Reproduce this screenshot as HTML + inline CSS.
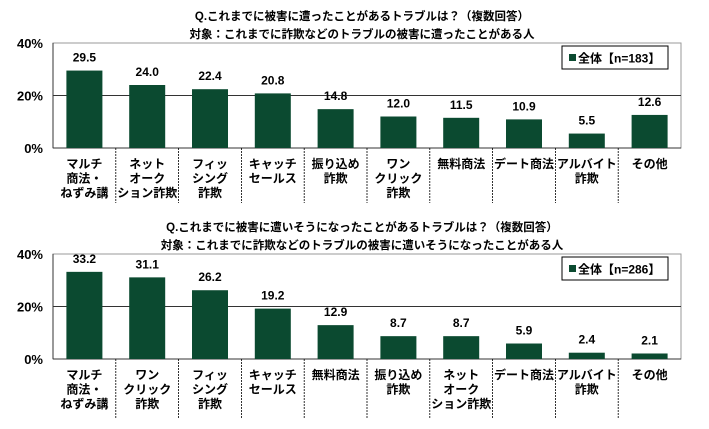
<!DOCTYPE html>
<html><head><meta charset="utf-8"><style>
body{margin:0;background:#fff;width:709px;height:424px;overflow:hidden}
svg text{font-family:"Liberation Sans","Noto Sans CJK JP",sans-serif;font-weight:bold;fill:#000}
</style></head><body>
<svg id="svg" width="709" height="424"></svg>
<script>
const cats1=[["マルチ","商法・","ねずみ講"],["ネット","オーク","ション詐欺"],["フィッ","シング","詐欺"],["キャッチ","セールス"],["振り込め","詐欺"],["ワン","クリック","詐欺"],["無料商法"],["デート商法"],["アルバイト","詐欺"],["その他"]];
const vals1=[29.5,24.0,22.4,20.8,14.8,12.0,11.5,10.9,5.5,12.6];
const cats2=[["マルチ","商法・","ねずみ講"],["ワン","クリック","詐欺"],["フィッ","シング","詐欺"],["キャッチ","セールス"],["無料商法"],["振り込め","詐欺"],["ネット","オーク","ション詐欺"],["デート商法"],["アルバイト","詐欺"],["その他"]];
const vals2=[33.2,31.1,26.2,19.2,12.9,8.7,8.7,5.9,2.4,2.1];
const ticks=[0,20,40];
const titles1=["Q.これまでに被害に遭ったことがあるトラブルは？（複数回答）","対象：これまでに詐欺などのトラブルの被害に遭ったことがある人"];
const titles2=["Q.これまでに被害に遭いそうになったことがあるトラブルは？（複数回答）","対象：これまでに詐欺などのトラブルの被害に遭いそうになったことがある人"];
const svg=document.getElementById('svg');
const NS='http://www.w3.org/2000/svg';
function mk(tag,attrs,txt){const e=document.createElementNS(NS,tag);for(const k in attrs)e.setAttribute(k,attrs[k]);if(txt!==undefined)e.textContent=txt;svg.appendChild(e);return e;}
function chart(cats,vals,titles,n,top,bottom,sepBottom,id){
  const L=53,R=681,max=40;
  const y=v=>bottom-(v/max)*(bottom-top);
  const bw=(R-L)/cats.length;
  const x=i=>L+i*bw;
  titles.forEach((t,i)=>{const e=mk('text',{x:362,y:top-23+i*18,'text-anchor':'middle','font-size':11.5},t);
  
  });
  const pa=mk('rect',{x:L,y:top,width:R-L,height:bottom-top,fill:'none',stroke:'#999','stroke-width':1});
  
  
  ticks.forEach(t=>{
    if(t>0&&t<max){const g=mk('line',{x1:L,x2:R,y1:y(t),y2:y(t),stroke:'#333','stroke-width':1});
    
    }
    const e=mk('text',{x:L-10,y:y(t)+5,'text-anchor':'end','font-size':13,'font-weight':'normal'},t+'%');
    
    
  });
  mk('line',{x1:L,x2:R,y1:bottom,y2:bottom,stroke:'#333'});
  mk('line',{x1:L,x2:L,y1:top,y2:bottom,stroke:'#333'});
  vals.forEach((v,i)=>{
    const b=mk('rect',{x:x(i)+bw/2-18,y:y(v),width:36,height:bottom-y(v),fill:'#0b4a30'});
    
    
    const t=mk('text',{x:x(i)+bw/2,y:y(v)-9,'text-anchor':'middle','font-size':12,'font-weight':'normal'},v.toFixed(1));
    
    
    cats[i].forEach((s,j)=>{const c=mk('text',{x:x(i)+bw/2,y:bottom+20+j*14.5,'text-anchor':'middle','font-size':12},s);
    
    });
    if(i>0){mk('line',{x1:x(i),x2:x(i),y1:bottom,y2:sepBottom,stroke:'#000','stroke-width':0.8,'stroke-dasharray':'2 1'});}
  });
  const lg=mk('rect',{x:562,y:top+3,width:106,height:23,fill:'#fff',stroke:'#000'});
  
  
  mk('rect',{x:569,y:top+11,width:7,height:7,fill:'#0b4a30'});
  const lt=mk('text',{x:578,y:top+19.5,'font-size':12},'全体【n='+n+'】');
  
  
}
chart(cats1,vals1,titles1,183,43,148,203,'chart1');
chart(cats2,vals2,titles2,286,254,359,419,'chart2');
</script>
</body></html>
